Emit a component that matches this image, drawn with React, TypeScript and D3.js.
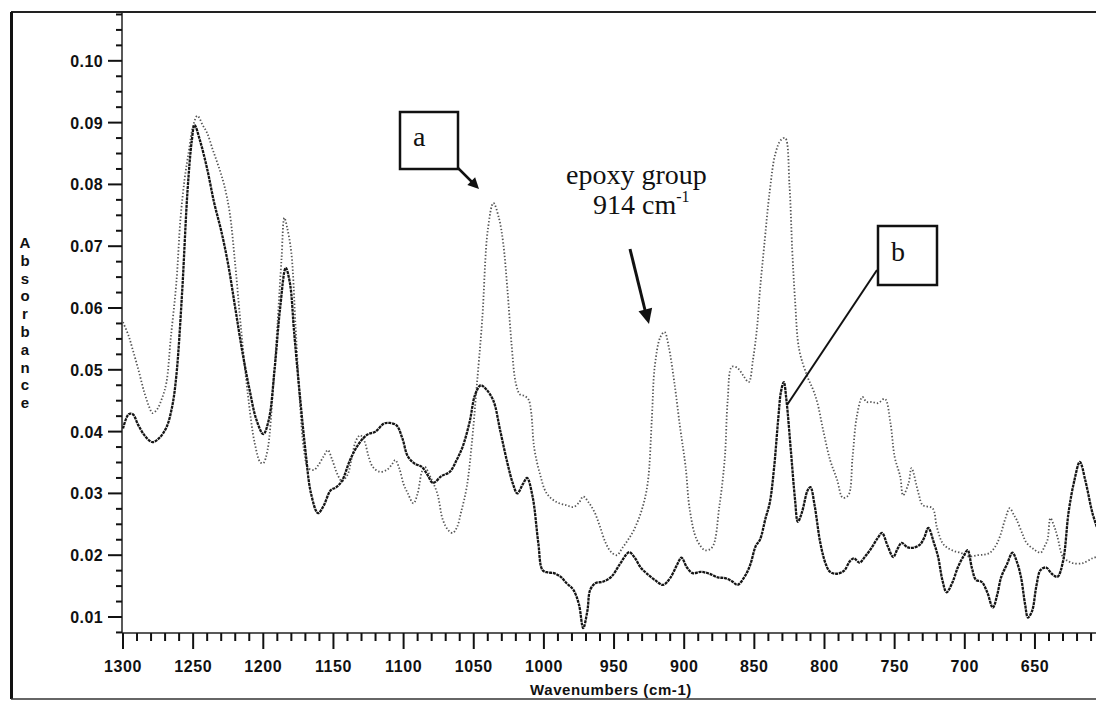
import React from "react";
import * as d3 from "d3";

// Spectrum b (solid) – wavenumber (cm-1) and absorbance
const bWave = [1300,1296,1293,1289,1284,1279,1274,1269,1265,1262,1258,1254,1251,1249,1245,1240,1235,1230,1225,1220,1215,1210,1205,1200,1196,1192,1188,1184,1181,1178,1174,1170,1166,1161,1157,1152,1148,1144,1138,1132,1126,1120,1114,1110,1105,1101,1097,1092,1087,1083,1079,1073,1067,1062,1058,1053,1049,1045,1041,1036,1031,1026,1022,1019,1015,1012,1008,1004,1001,997,993,988,984,979,975,972,969,967,963,958,952,946,941,939,935,931,927,921,915,910,905,902,898,894,888,882,876,871,866,862,857,853,849,846,842,839,836,833,831,829,827,824,821,819,816,812,810,807,803,799,796,791,786,782,779,775,771,767,762,759,755,751,748,745,741,737,732,729,726,722,719,716,713,709,705,701,698,695,692,688,684,680,677,674,670,666,663,660,657,655,652,649,646,642,638,634,630,626,622,618,614,609,605];
const bAbs = [0.0405,0.0428,0.0428,0.041,0.0392,0.0383,0.039,0.0407,0.044,0.049,0.062,0.079,0.087,0.0896,0.087,0.0825,0.077,0.0725,0.067,0.06,0.053,0.047,0.042,0.0396,0.042,0.05,0.06,0.0665,0.064,0.056,0.046,0.037,0.03,0.0268,0.028,0.0305,0.031,0.032,0.0355,0.038,0.0395,0.04,0.0413,0.0414,0.041,0.039,0.036,0.0348,0.0343,0.033,0.0317,0.0328,0.0335,0.0355,0.0375,0.0415,0.046,0.0475,0.0468,0.045,0.04,0.0349,0.0315,0.03,0.0315,0.0325,0.0294,0.022,0.0176,0.0172,0.0171,0.0165,0.0155,0.0144,0.012,0.0082,0.011,0.0144,0.0155,0.0157,0.0165,0.0185,0.0202,0.0205,0.0195,0.018,0.0171,0.016,0.0152,0.0163,0.0185,0.0196,0.018,0.0171,0.0173,0.017,0.0164,0.0163,0.0158,0.0152,0.0165,0.0184,0.0215,0.0225,0.026,0.0285,0.034,0.042,0.0465,0.048,0.0448,0.037,0.029,0.0254,0.027,0.0305,0.031,0.028,0.022,0.0185,0.0173,0.017,0.0175,0.019,0.0195,0.0188,0.0198,0.021,0.0228,0.0236,0.0215,0.0197,0.021,0.022,0.0213,0.0212,0.0217,0.0228,0.0244,0.022,0.0197,0.016,0.014,0.0155,0.018,0.0198,0.0208,0.018,0.016,0.0157,0.014,0.0115,0.0135,0.0165,0.0185,0.0204,0.019,0.0165,0.012,0.0099,0.011,0.015,0.0176,0.018,0.017,0.0165,0.019,0.027,0.032,0.0351,0.032,0.0268,0.024];

// Spectrum a (dotted)
const aWave = [1300,1296,1293,1289,1285,1281,1279,1276,1272,1269,1266,1262,1259,1256,1253,1250,1247,1243,1240,1236,1232,1228,1224,1220,1216,1211,1206,1202,1200,1197,1193,1190,1187,1185,1183,1180,1177,1174,1171,1168,1164,1161,1157,1154,1151,1147,1144,1140,1137,1134,1131,1128,1125,1122,1117,1112,1108,1106,1103,1100,1097,1093,1090,1087,1085,1081,1076,1072,1068,1065,1062,1059,1055,1051,1048,1044,1040,1036,1032,1029,1026,1023,1020,1017,1014,1011,1009,1007,1003,998,991,984,979,975,972,968,964,960,956,952,948,944,940,936,930,926,923,921,917,914,911,907,903,899,896,891,885,880,875,871,869,866,862,858,854,851,848,846,843,839,835,831,828,825,823,821,818,812,808,805,801,796,791,787,783,780,777,773,770,766,762,757,753,750,746,744,740,738,733,730,723,720,716,713,708,703,697,691,686,682,678,675,671,668,665,663,659,656,651,646,643,641,639,636,634,630,626,623,616,609,605];
const aAbs = [0.0577,0.0555,0.0532,0.05,0.0465,0.0438,0.043,0.0435,0.0455,0.048,0.055,0.064,0.0745,0.081,0.0855,0.0895,0.0911,0.0895,0.0883,0.0856,0.083,0.08,0.0755,0.067,0.057,0.046,0.038,0.035,0.0349,0.037,0.047,0.057,0.068,0.0746,0.073,0.0689,0.057,0.045,0.037,0.0341,0.0338,0.0345,0.036,0.037,0.0355,0.033,0.032,0.033,0.0357,0.0385,0.0394,0.0385,0.036,0.0343,0.0335,0.0338,0.0348,0.0354,0.034,0.0315,0.03,0.0284,0.03,0.0335,0.0343,0.0327,0.03,0.0257,0.024,0.0236,0.0245,0.027,0.031,0.039,0.047,0.058,0.0726,0.077,0.0745,0.0705,0.063,0.054,0.0478,0.046,0.0458,0.0452,0.043,0.0375,0.0333,0.03,0.0286,0.0281,0.0278,0.0285,0.0295,0.0285,0.027,0.0246,0.022,0.0205,0.02,0.0212,0.0225,0.024,0.0275,0.0317,0.0424,0.0505,0.0553,0.0561,0.0537,0.0479,0.0408,0.0343,0.0273,0.0225,0.0208,0.0213,0.0278,0.0359,0.0451,0.0505,0.0503,0.0491,0.048,0.0516,0.057,0.0629,0.07,0.079,0.085,0.0872,0.0875,0.08,0.0694,0.0613,0.0532,0.0488,0.0467,0.0446,0.0403,0.0354,0.0322,0.0293,0.0297,0.0359,0.0424,0.0456,0.0448,0.0448,0.0446,0.0453,0.0414,0.0359,0.0327,0.0297,0.0317,0.0341,0.03,0.0281,0.0276,0.0246,0.022,0.0213,0.0207,0.0204,0.0198,0.02,0.0201,0.0204,0.0215,0.023,0.026,0.0276,0.0265,0.0257,0.0235,0.022,0.021,0.0204,0.0215,0.0225,0.026,0.0245,0.023,0.0197,0.019,0.0187,0.0187,0.0195,0.0198];

const yMajor = [0.01,0.02,0.03,0.04,0.05,0.06,0.07,0.08,0.09,0.10];
const xMajor = [1300,1250,1200,1150,1100,1050,1000,950,900,850,800,750,700,650];
const yLabel = "Absorbance";
const xLabel = "Wavenumbers (cm-1)";

const W = 1096, H = 702;
const L = 122, T = 12, B = 633;
const SANS = "'Liberation Sans', Arial, Helvetica, sans-serif";
const SERIF = "'Liberation Serif', 'Times New Roman', serif";

function arrowHead(x1: number, y1: number, x2: number, y2: number, len: number, half: number) {
  const dx = x2 - x1, dy = y2 - y1;
  const m = Math.hypot(dx, dy);
  const ux = dx / m, uy = dy / m;
  const bx = x2 - ux * len, by = y2 - uy * len;
  const nx = -uy, ny = ux;
  return `${x2},${y2} ${bx + nx * half},${by + ny * half} ${bx - nx * half},${by - ny * half}`;
}

export default function App() {
  const x = d3.scaleLinear().domain([1300, 600]).range([123, 123 + 700 * 1.403]);
  const y = d3.scaleLinear().domain([0.00741, 0.1079]).range([B, T]);
  const line = d3
    .line<[number, number]>()
    .x((d) => x(d[0]))
    .y((d) => y(d[1]))
    .curve(d3.curveCatmullRom.alpha(0.5));
  const bData: [number, number][] = bWave.map((w, i) => [w, bAbs[i]]);
  const aData: [number, number][] = aWave.map((w, i) => [w, aAbs[i]]);

  const yMinor = d3.range(0.0075, 0.108, 0.0025).filter((v) => !yMajor.some((m) => Math.abs(m - v) < 1e-6));
  const xMinor = d3.range(1300, 605, -10).filter((v) => v % 50 !== 0);

  return (
    <svg width={W} height={H} style={{ position: "absolute", left: 0, top: 0, background: "#fff" }}>
      <defs>
        <clipPath id="plot">
          <rect x={L} y={T} width={W - L} height={B - T} />
        </clipPath>
      </defs>
      <rect x={0} y={0} width={W} height={H} fill="#fff" />
      {/* outer frame */}
      <line x1={11} y1={T} x2={W} y2={T} stroke="#222" strokeWidth={2} />
      <line x1={11.5} y1={T} x2={11.5} y2={699} stroke="#111" strokeWidth={3} />
      <line x1={11} y1={699} x2={W} y2={699} stroke="#333" strokeWidth={1.5} />

      {/* axes */}
      <line x1={L} y1={T} x2={L} y2={B} stroke="#222" strokeWidth={1.5} />
      <line x1={L} y1={B} x2={W} y2={B} stroke="#222" strokeWidth={1.5} />
      {yMajor.map((v) => (
        <g key={"ym" + v}>
          <line x1={L - 14} x2={L} y1={y(v)} y2={y(v)} stroke="#111" strokeWidth={2} />
          <text x={103} y={y(v) + 6} textAnchor="end" fontFamily={SANS} fontWeight="bold" fontSize={16} letterSpacing={0.4} fill="#111">
            {v.toFixed(2)}
          </text>
        </g>
      ))}
      {yMinor.map((v) => (
        <line key={"yn" + v} x1={L - 6} x2={L} y1={y(v)} y2={y(v)} stroke="#111" strokeWidth={2} />
      ))}
      {xMajor.map((v) => (
        <g key={"xm" + v}>
          <line x1={x(v)} x2={x(v)} y1={B} y2={B + 16} stroke="#111" strokeWidth={2} />
          <text x={x(v)} y={672} textAnchor="middle" fontFamily={SANS} fontWeight="bold" fontSize={16} letterSpacing={0.6} fill="#111">
            {v}
          </text>
        </g>
      ))}
      {xMinor.map((v) => (
        <line key={"xn" + v} x1={x(v)} x2={x(v)} y1={B} y2={B + 8} stroke="#111" strokeWidth={2} />
      ))}
      <text x={611} y={695} textAnchor="middle" fontFamily={SANS} fontWeight="bold" fontSize={15} letterSpacing={0.6} fill="#111">
        {xLabel}
      </text>
      {yLabel.split("").map((c, i) => (
        <text key={"yl" + i} x={25} y={248 + i * 17.8} textAnchor="middle" fontFamily={SANS} fontWeight="bold" fontSize={15} fill="#111">
          {c}
        </text>
      ))}

      {/* spectra */}
      <g clipPath="url(#plot)">
        <path d={line(aData) || ""} fill="none" stroke="#555" strokeWidth={1.8} strokeDasharray="1.4 2" />
        <path d={line(bData) || ""} fill="none" stroke="#151515" strokeWidth={2.3} strokeDasharray="3 0.8" />
      </g>

      {/* annotations */}
      <rect x={400} y={112} width={58} height={57} fill="#fff" stroke="#111" strokeWidth={2.5} />
      <text x={413} y={146} fontFamily={SERIF} fontSize={28} fill="#111">a</text>
      <line x1={458} y1={168} x2={473} y2={183} stroke="#111" strokeWidth={2.5} />
      <polygon points={arrowHead(458, 168, 479, 189, 11, 5.5)} fill="#111" />

      <text x={566} y={184} fontFamily={SERIF} fontSize={28} fill="#111">epoxy group</text>
      <text x={593} y={214} fontFamily={SERIF} fontSize={28} fill="#111">
        914 cm<tspan fontSize={16} dy={-12}>-1</tspan>
      </text>
      <line x1={630} y1={249} x2={645} y2={310} stroke="#111" strokeWidth={3} />
      <polygon points={arrowHead(630, 249, 649, 324, 15, 7)} fill="#111" />

      <rect x={878} y={226} width={59} height={59} fill="#fff" stroke="#111" strokeWidth={2.5} />
      <text x={891} y={261} fontFamily={SERIF} fontSize={28} fill="#111">b</text>
      <line x1={877} y1={270} x2={787} y2={405} stroke="#111" strokeWidth={2} />
    </svg>
  );
}
